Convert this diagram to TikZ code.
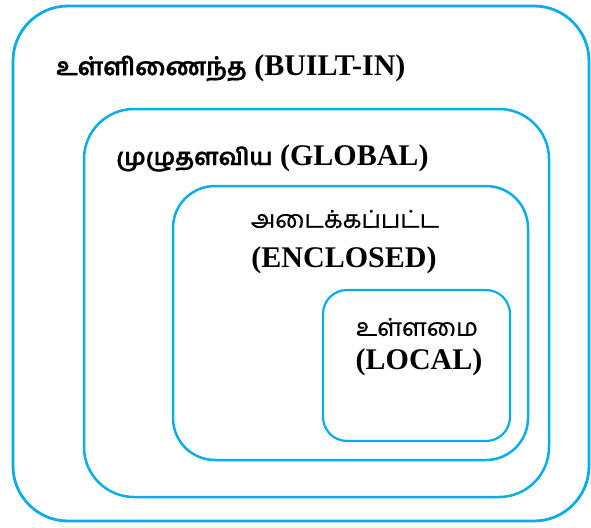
\documentclass[tikz,border=0pt]{standalone}
\usepackage{fontspec}
\setmainfont{Liberation Serif}
\newfontfamily\tamil[Script=Tamil,FakeBold=0.6]{Hind Madurai}
\definecolor{scopeblue}{RGB}{10,172,236}
\begin{document}
\begin{tikzpicture}[x=1pt,y=-1pt,
  scopebox/.style={draw=scopeblue, line width=2.8pt},
  lbl/.style={inner sep=0pt, font=\fontsize{30}{34}\selectfont\bfseries},
  ta/.style={font=\fontsize{24.5}{28}\selectfont\tamil}]
\useasboundingbox (0,0) rectangle (591,527);
% nested scopes, outermost first
\draw[scopebox, rounded corners=55pt] (13,6) rectangle (589,521);
\draw[scopebox, rounded corners=50pt, line width=2.5pt] (84,109) rectangle (549,497);
\draw[scopebox, rounded corners=42pt, line width=2.5pt] (173,186) rectangle (528,460);
\draw[scopebox, rounded corners=24pt, line width=2.2pt] (323,290) rectangle (510,441);
% labels
\node[lbl, anchor=west] (builtin) at (56,68) {{\fontsize{24.5}{28}\selectfont\tamil உள்ளிணைந்த} (BUILT-IN)};
\node[lbl, anchor=west] (global) at (116,158) {{\fontsize{23.5}{28}\selectfont\tamil முழுதளவிய} (GLOBAL)};
\node[lbl, ta] (enclta) at (345,219) {அடைக்கப்பட்ட};
\node[lbl] (enclen) at (344,260) {(ENCLOSED)};
\node[lbl, ta] (localta) at (417,327) {உள்ளமை};
\node[lbl] (localen) at (419,362) {(LOCAL)};
\end{tikzpicture}
\end{document}
